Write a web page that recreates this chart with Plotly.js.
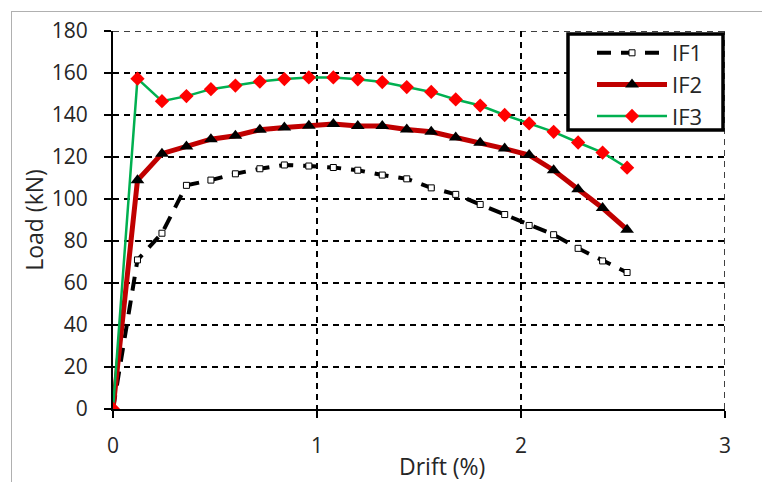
<!DOCTYPE html>
<html>
<head>
<meta charset="utf-8">
<script src="https://cdn.plot.ly/plotly-3.0.1.min.js"></script>
<style>
html,body{margin:0;padding:0;background:#fff;}
#wrap{position:relative;width:762px;height:482px;}
#chart{width:762px;height:482px;}
#frame{position:absolute;left:11px;top:11px;width:760px;height:480px;border-top:1.5px solid #b0b0b0;border-left:1.5px solid #b0b0b0;pointer-events:none;}
</style>
</head>
<body>
<div id="wrap"><div id="chart"></div><div id="frame"></div></div>
<script>
const drift = [0, 0.12, 0.24, 0.36, 0.48, 0.60, 0.72, 0.84, 0.96, 1.08, 1.20, 1.32, 1.44, 1.56, 1.68, 1.80, 1.92, 2.04, 2.16, 2.28, 2.40, 2.52];
const if1 = [0, 71, 83.7, 106.5, 109, 112, 114.4, 116.2, 115.7, 115, 113.7, 111.4, 109.6, 105.3, 102.2, 97.4, 92.6, 87.4, 83.0, 76.5, 70.5, 65.0];
const if2 = [0, 108.9, 121.6, 125, 128.5, 130.1, 133, 134.1, 134.9, 135.7, 134.8, 134.8, 133.1, 132, 129.3, 126.8, 124, 120.9, 113.7, 104.6, 95.7, 85.4];
const if3 = [0, 157.3, 146.6, 149.0, 152.3, 154.0, 155.9, 157.1, 157.9, 157.9, 157.0, 155.7, 153.3, 151.0, 147.4, 144.5, 140, 136, 132, 126.9, 122.1, 114.9];
const seriesNames = ["IF1", "IF2", "IF3"];
const xTicks = [0, 1, 2, 3];
const yTicks = [0, 20, 40, 60, 80, 100, 120, 140, 160, 180];

const FONT = "Open Sans, Liberation Sans, sans-serif";
const TXT = "#262626";

const traces = [
  {x: drift, y: if1, name: seriesNames[0], mode: "lines+markers",
   line: {color: "#000000", width: 4, dash: "14px,10px"},
   marker: {symbol: "square", size: 6, color: "#ffffff", line: {color: "#000000", width: 1}}},
  {x: drift, y: if2, name: seriesNames[1], mode: "lines+markers",
   line: {color: "#C00000", width: 5},
   marker: {symbol: "triangle-up", size: 12, color: "#000000"}},
  {x: drift, y: if3, name: seriesNames[2], mode: "lines+markers",
   line: {color: "#00B050", width: 2.5},
   marker: {symbol: "diamond", size: 11, color: "#FF0000"}}
];

const xMax = xTicks[xTicks.length - 1];
const yMax = yTicks[yTicks.length - 1];

// plot area: x 113..725, y 31..409
const PL = 113, PR = 725, PT = 31, PB = 409;
const px2x = p => (p - PL) / (PR - PL);
const px2y = p => (PB - p) / (PB - PT);

const gridDash = {color: "#000000", width: 1.5, dash: "6px,5px"};

const layout = {
  width: 762, height: 482,
  margin: {l: PL, r: 762 - PR, t: PT, b: 482 - PB},
  paper_bgcolor: "#ffffff", plot_bgcolor: "#ffffff",
  font: {family: FONT, size: 21, color: TXT},
  showlegend: true,
  legend: {x: px2x(592), y: px2y(32), xanchor: "left", yanchor: "top",
    bgcolor: "rgba(0,0,0,0)", borderwidth: 0,
    font: {family: FONT, size: 22, color: TXT}, itemwidth: 70, tracegroupgap: 0},
  xaxis: {range: [0, xMax], tickvals: xTicks, ticktext: xTicks.map(String),
    showline: true, linecolor: "#000000", linewidth: 2,
    ticks: "outside", ticklen: 7, tickwidth: 2, tickcolor: "#000000",
    showgrid: true, gridcolor: "#000000", gridwidth: 1.5, griddash: "6px,5px",
    zeroline: false, ticklabelstandoff: 10, tickfont: {family: FONT, size: 21, color: TXT}},
  yaxis: {range: [0, yMax], tickvals: yTicks, ticktext: yTicks.map(String),
    showline: true, linecolor: "#000000", linewidth: 2,
    ticks: "outside", ticklen: 7, tickwidth: 2, tickcolor: "#000000",
    showgrid: true, gridcolor: "#000000", gridwidth: 1.5, griddash: "6px,5px",
    zeroline: false, ticklabelstandoff: 12, tickfont: {family: FONT, size: 21, color: TXT},
    title: {text: "Load (kN)", font: {family: FONT, size: 23, color: TXT}, standoff: 2}},
  shapes: [
    {type: "line", xref: "x", yref: "y", x0: xMax, x1: xMax, y0: 0, y1: yMax, line: gridDash},
    {type: "line", xref: "x", yref: "y", x0: 0, x1: xMax, y0: yMax, y1: yMax, line: gridDash},
    {type: "rect", xref: "paper", yref: "paper", layer: "above",
     x0: px2x(568), x1: px2x(723), y0: px2y(130), y1: px2y(34),
     fillcolor: "#ffffff", line: {color: "#000000", width: 3.5}}
  ],
  annotations: [
    {text: "Drift (%)", xref: "paper", yref: "paper", x: px2x(442), y: px2y(466),
     xanchor: "center", yanchor: "middle", showarrow: false,
     font: {family: FONT, size: 23, color: TXT}}
  ]
};

Plotly.newPlot("chart", traces, layout, {displayModeBar: false, staticPlot: true});
</script>
</body>
</html>
